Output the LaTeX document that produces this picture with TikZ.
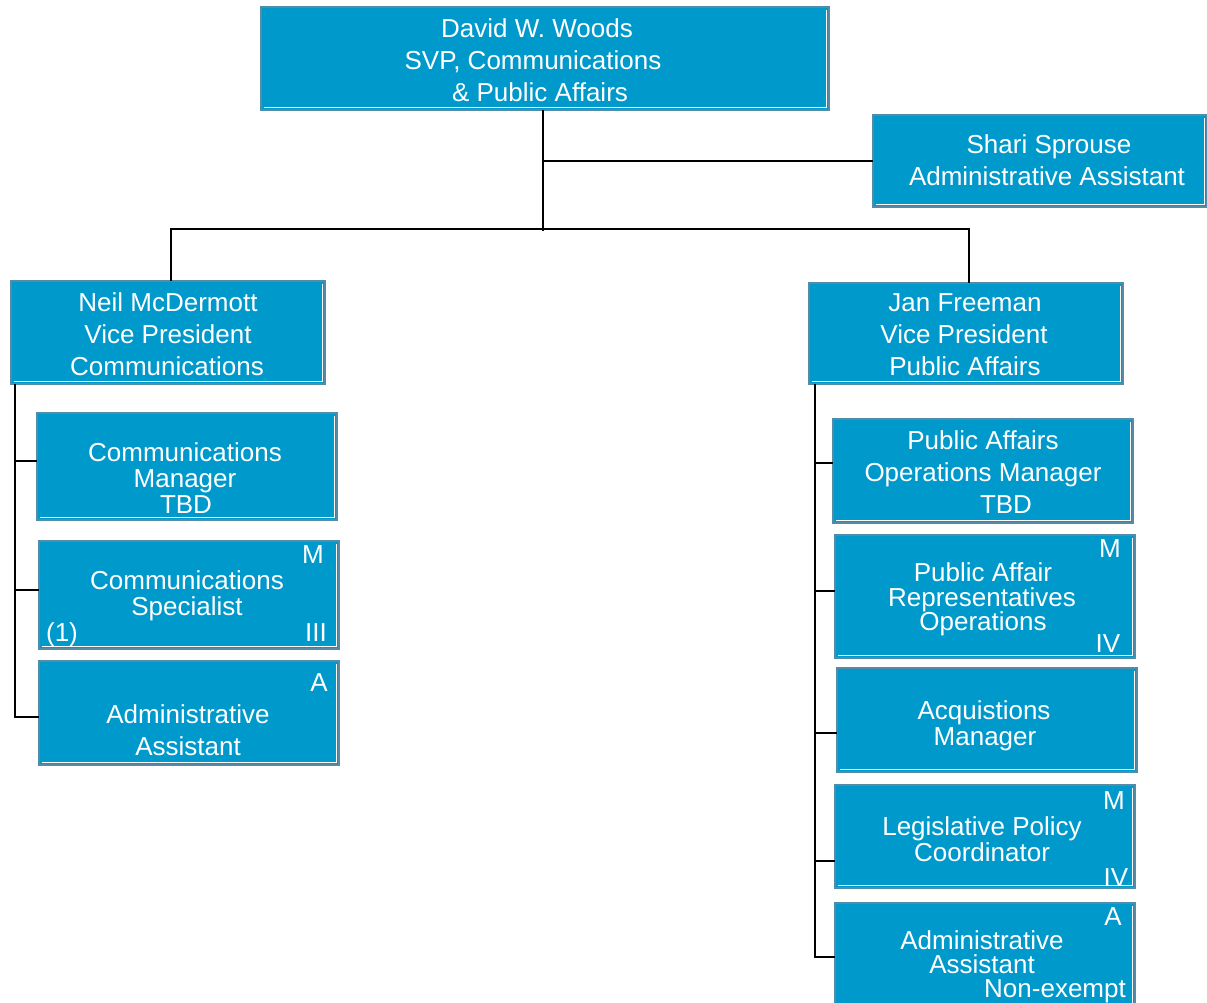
\documentclass[tikz,border=0pt]{standalone}
\usepackage{fontspec}
\setmainfont{Liberation Sans}
\definecolor{boxblue}{RGB}{0,153,204}
\definecolor{boxedge}{RGB}{84,140,168}
\newcommand\orgbox[5]{%
  \node[orgboxst, minimum width={#4-#2}, minimum height={#5-#3}] (#1) at ({(#2+#4)/2},{-(#3+#5)/2}) {};
  \draw[white, line width=0.9pt] ([shift={(2.5pt,2.5pt)}]#1.south west) -- ([shift={(-2.5pt,2.5pt)}]#1.south east) -- ([shift={(-2.5pt,-2.5pt)}]#1.north east);
}
\begin{document}
\begin{tikzpicture}[x=1pt,y=1pt,
  orgboxst/.style={fill=boxblue, draw=boxedge, line width=1.3pt, inner sep=0pt, outer sep=0pt},
  txt/.style={text=white, inner sep=0pt, text height=19pt, text depth=1pt, font=\fontsize{26}{30}\selectfont},
  conn/.style={line width=1.6pt, black}]
\useasboundingbox (0,0) rectangle (1207,-1002);
% boxes
\orgbox{david}{261}{7}{829}{110}
\orgbox{shari}{873}{115}{1207}{207}
\orgbox{neil}{11}{281}{325}{384}
\orgbox{jan}{809}{283}{1123}{384}
\orgbox{cm}{37}{413}{337}{520}
\orgbox{cs}{39}{541}{339}{649}
\orgbox{aa1}{39}{661}{339}{765}
\orgbox{pao}{833}{419}{1133}{523}
\orgbox{par}{835}{535}{1135}{658}
\orgbox{acq}{837}{668}{1137}{772}
\orgbox{leg}{835}{785}{1135}{888}
\orgbox{aa2}{835}{903}{1135}{1012}
% texts
\node[txt] (d1) at (537,-28) {David W. Woods};
\node[txt] (d2) at (533,-60) {SVP, Communications};
\node[txt] (d3) at (540,-92) {\& Public Affairs};
\node[txt] (s1) at (1049,-144) {Shari Sprouse};
\node[txt] (s2) at (1047,-176) {Administrative Assistant};
\node[txt] (n1) at (168,-302) {Neil McDermott};
\node[txt] (n2) at (168,-334) {Vice President};
\node[txt] (n3) at (167,-366) {Communications};
\node[txt] (j1t) at (965,-302) {Jan Freeman};
\node[txt] (j2t) at (964,-334) {Vice President};
\node[txt] (j3t) at (965,-366) {Public Affairs};
\node[txt] (cm1) at (185,-452) {Communications};
\node[txt] (cm2) at (185,-478) {Manager};
\node[txt] (cm3) at (186,-504) {TBD};
\node[txt] (csm) at (313,-554) {M};
\node[txt] (cs1) at (187,-580) {Communications};
\node[txt] (cs2) at (187,-606) {Specialist};
\node[txt] (cs3) at (62,-632) {(1)};
\node[txt] (cs4) at (316,-632) {III};
\node[txt] (aa1a) at (319,-682) {A};
\node[txt] (aa1b) at (188,-714) {Administrative};
\node[txt] (aa1c) at (188,-746) {Assistant};
\node[txt] (pao1) at (983,-440) {Public Affairs};
\node[txt] (pao2) at (983,-472) {Operations Manager};
\node[txt] (pao3) at (1006,-504) {TBD};
\node[txt] (parm) at (1110,-548) {M};
\node[txt] (par1) at (983,-572) {Public Affair};
\node[txt] (par2) at (982,-597) {Representatives};
\node[txt] (par3) at (983,-621) {Operations};
\node[txt] (par4) at (1108,-643) {IV};
\node[txt] (acq1) at (984,-710) {Acquistions};
\node[txt] (acq2) at (985,-736) {Manager};
\node[txt] (legm) at (1114,-800) {M};
\node[txt] (leg1) at (982,-826) {Legislative Policy};
\node[txt] (leg2) at (982,-852) {Coordinator};
\node[txt] (leg3) at (1116,-877) {IV};
\node[txt] (aa2a) at (1113,-916) {A};
\node[txt] (aa2b) at (982,-940) {Administrative};
\node[txt] (aa2c) at (982,-964) {Assistant};
\node[txt] (aa2d) at (1055,-988) {Non-exempt};
% connectors
\coordinate (jt) at (543,-161);
\coordinate (jb) at (543,-231);
\coordinate (bl) at (171,-229);
\coordinate (br) at (969,-229);
\coordinate (lv) at (15,-717);
\coordinate (rv) at (815,-957);
\coordinate (tcm) at ([yshift=5.5pt]cm.west);
\coordinate (tcs) at ([yshift=5pt]cs.west);
\coordinate (taa1) at ([yshift=-4pt]aa1.west);
\coordinate (tpao) at ([yshift=8pt]pao.west);
\coordinate (tpar) at ([yshift=5.5pt]par.west);
\coordinate (tacq) at ([yshift=-13pt]acq.west);
\coordinate (tleg) at ([yshift=-24.5pt]leg.west);
\draw[conn] (david.south -| jt) -- (jb);
\draw[conn] (jt) -- (shari.west |- jt);
\draw[conn] (neil.north -| bl) -- (bl) -- (br) -- (jan.north -| br);
\draw[conn] (neil.south -| lv) -- (lv) -- (taa1);
\draw[conn] (lv |- tcm) -- (tcm);
\draw[conn] (lv |- tcs) -- (tcs);
\draw[conn] (jan.south -| rv) -- (rv) -- (aa2.west |- rv);
\draw[conn] (rv |- tpao) -- (tpao);
\draw[conn] (rv |- tpar) -- (tpar);
\draw[conn] (rv |- tacq) -- (tacq);
\draw[conn] (rv |- tleg) -- (tleg);
\end{tikzpicture}
\end{document}
